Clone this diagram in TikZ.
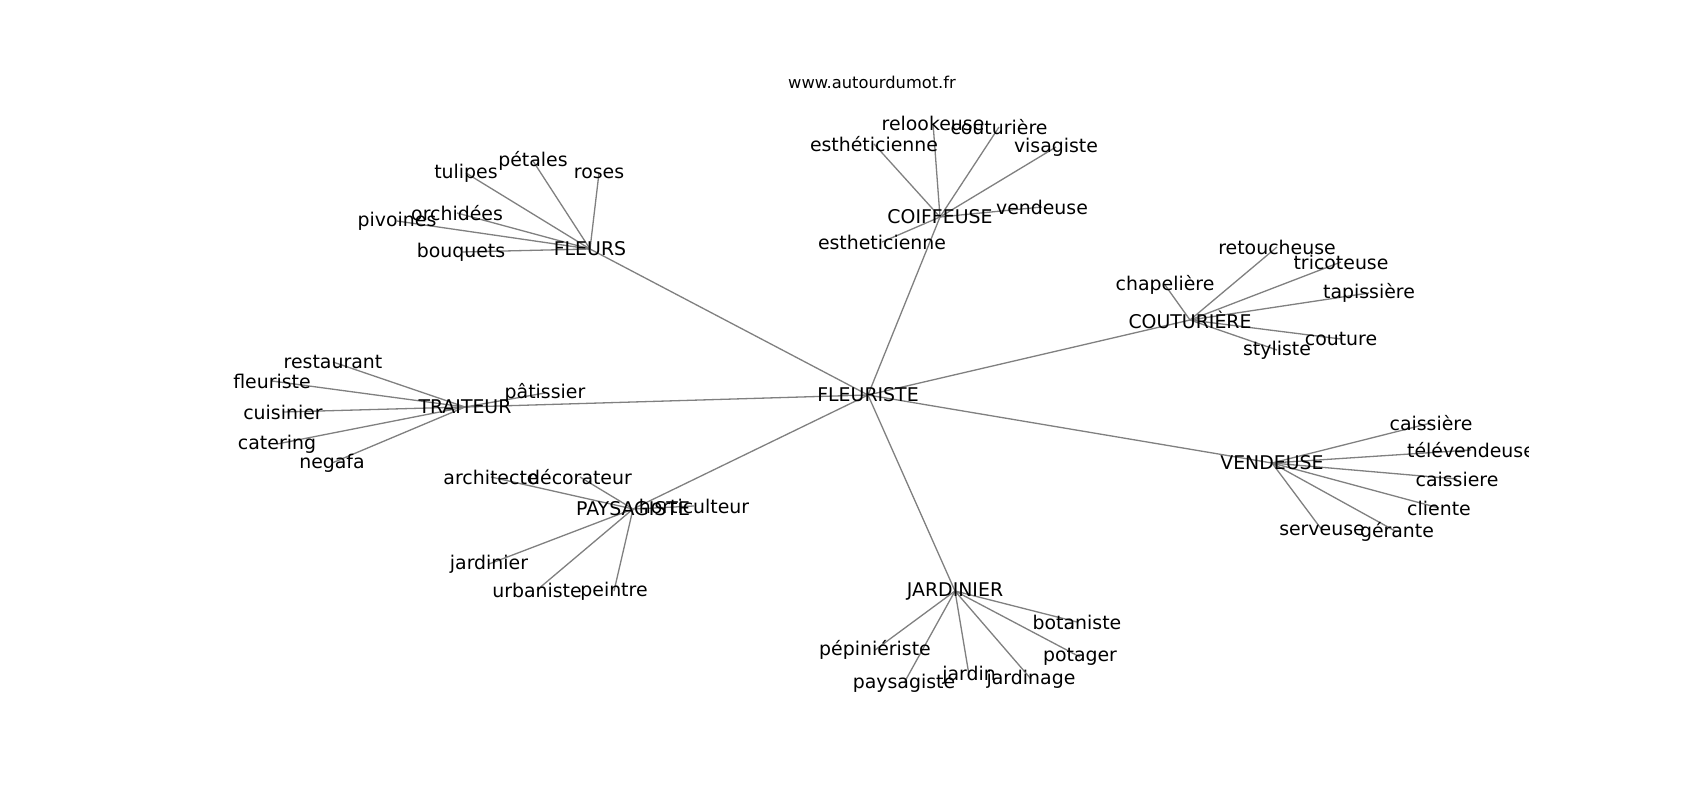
\documentclass[tikz,border=0pt]{standalone}
\usepackage{fontspec}
\setmainfont{DejaVu Sans}
\definecolor{edgegray}{RGB}{128,128,128}
\tikzset{
  lbl/.style={font=\fontsize{18.9}{22}\selectfont, inner sep=0pt, text=black},
  ttl/.style={font=\fontsize{16.3}{20}\selectfont, inner sep=0pt, text=black},
  lnk/.style={draw=edgegray, line width=1.3pt}
}
\def\nodelist{root/868/395/FLEURISTE,
fleurs/590/249/FLEURS,
tulipes/466/173/tulipes, petales/533/161/pétales, roses/599/173/roses, orchidees/457/213/orchidées, pivoines/397/221/pivoines, bouquets/461/252/bouquets,
coiffeuse/940/217/COIFFEUSE,
relookeuse/933/123/relookeuse, couturiereB/999/127/couturière, estheticA/874/144/esthéticienne, visagiste/1056/147/visagiste, vendeuseB/1042/207/vendeuse, estheticB/882/242/estheticienne,
couturiere/1190/320/COUTURIÈRE,
retoucheuse/1277/247/retoucheuse, tricoteuse/1341/262/tricoteuse, chapeliere/1165/285/chapelière, tapissiere/1369/293/tapissière, couture/1341/339/couture, styliste/1277/350/styliste,
vendeuse/1272/463/VENDEUSE,
caissiereA/1431/423/caissière, televendeuse/1471/450/télévendeuse, caissiereB/1457/479/caissiere, cliente/1439/508/cliente, serveuse/1322/530/serveuse, gerante/1397/532/gérante,
traiteur/465/407/TRAITEUR,
restaurant/333/362/restaurant, fleuriste/272/381/fleuriste, cuisinier/283/412/cuisinier, catering/277/444/catering, negafa/332/463/negafa, patissier/545/393/pâtissier,
paysagiste/633/509/PAYSAGISTE,
architecte/491/477/architecte, decorateur/580/477/décorateur, horticulteur/694/506/horticulteur, jardinierB/489/564/jardinier, urbaniste/537/590/urbaniste, peintre/614/591/peintre,
jardinier/955/591/JARDINIER,
botaniste/1077/622/botaniste, pepinieriste/875/650/pépiniériste, potager/1080/657/potager, jardin/969/675/jardin, jardinage/1031/679/jardinage, paysagisteB/904/683/paysagiste}
\def\edgelist{root/fleurs, root/coiffeuse, root/couturiere, root/vendeuse, root/jardinier, root/paysagiste, root/traiteur,
fleurs/tulipes, fleurs/petales, fleurs/roses, fleurs/orchidees, fleurs/pivoines, fleurs/bouquets,
coiffeuse/relookeuse, coiffeuse/couturiereB, coiffeuse/estheticA, coiffeuse/visagiste, coiffeuse/vendeuseB, coiffeuse/estheticB,
couturiere/retoucheuse, couturiere/tricoteuse, couturiere/chapeliere, couturiere/tapissiere, couturiere/couture, couturiere/styliste,
vendeuse/caissiereA, vendeuse/televendeuse, vendeuse/caissiereB, vendeuse/cliente, vendeuse/serveuse, vendeuse/gerante,
traiteur/restaurant, traiteur/fleuriste, traiteur/cuisinier, traiteur/catering, traiteur/negafa, traiteur/patissier,
paysagiste/architecte, paysagiste/decorateur, paysagiste/horticulteur, paysagiste/jardinierB, paysagiste/urbaniste, paysagiste/peintre,
jardinier/botaniste, jardinier/pepinieriste, jardinier/potager, jardinier/jardin, jardinier/jardinage, jardinier/paysagisteB}
\begin{document}
\begin{tikzpicture}[x=1pt, y=-1pt]
\useasboundingbox[fill=white] (0,0) rectangle (1700,800);
\foreach \n/\x/\y/\t in \nodelist { \coordinate (\n) at (\x,\y); }
\begin{scope}
\clip (212,96) rectangle (1528,712);
\foreach \a/\b in \edgelist { \draw[lnk] (\a) -- (\b); }
\foreach \n/\x/\y/\t in \nodelist { \node[lbl] (L\n) at (\n) {\t}; }
\end{scope}
\node[ttl] (title) at (872,82) {www.autourdumot.fr};
\end{tikzpicture}
\end{document}
